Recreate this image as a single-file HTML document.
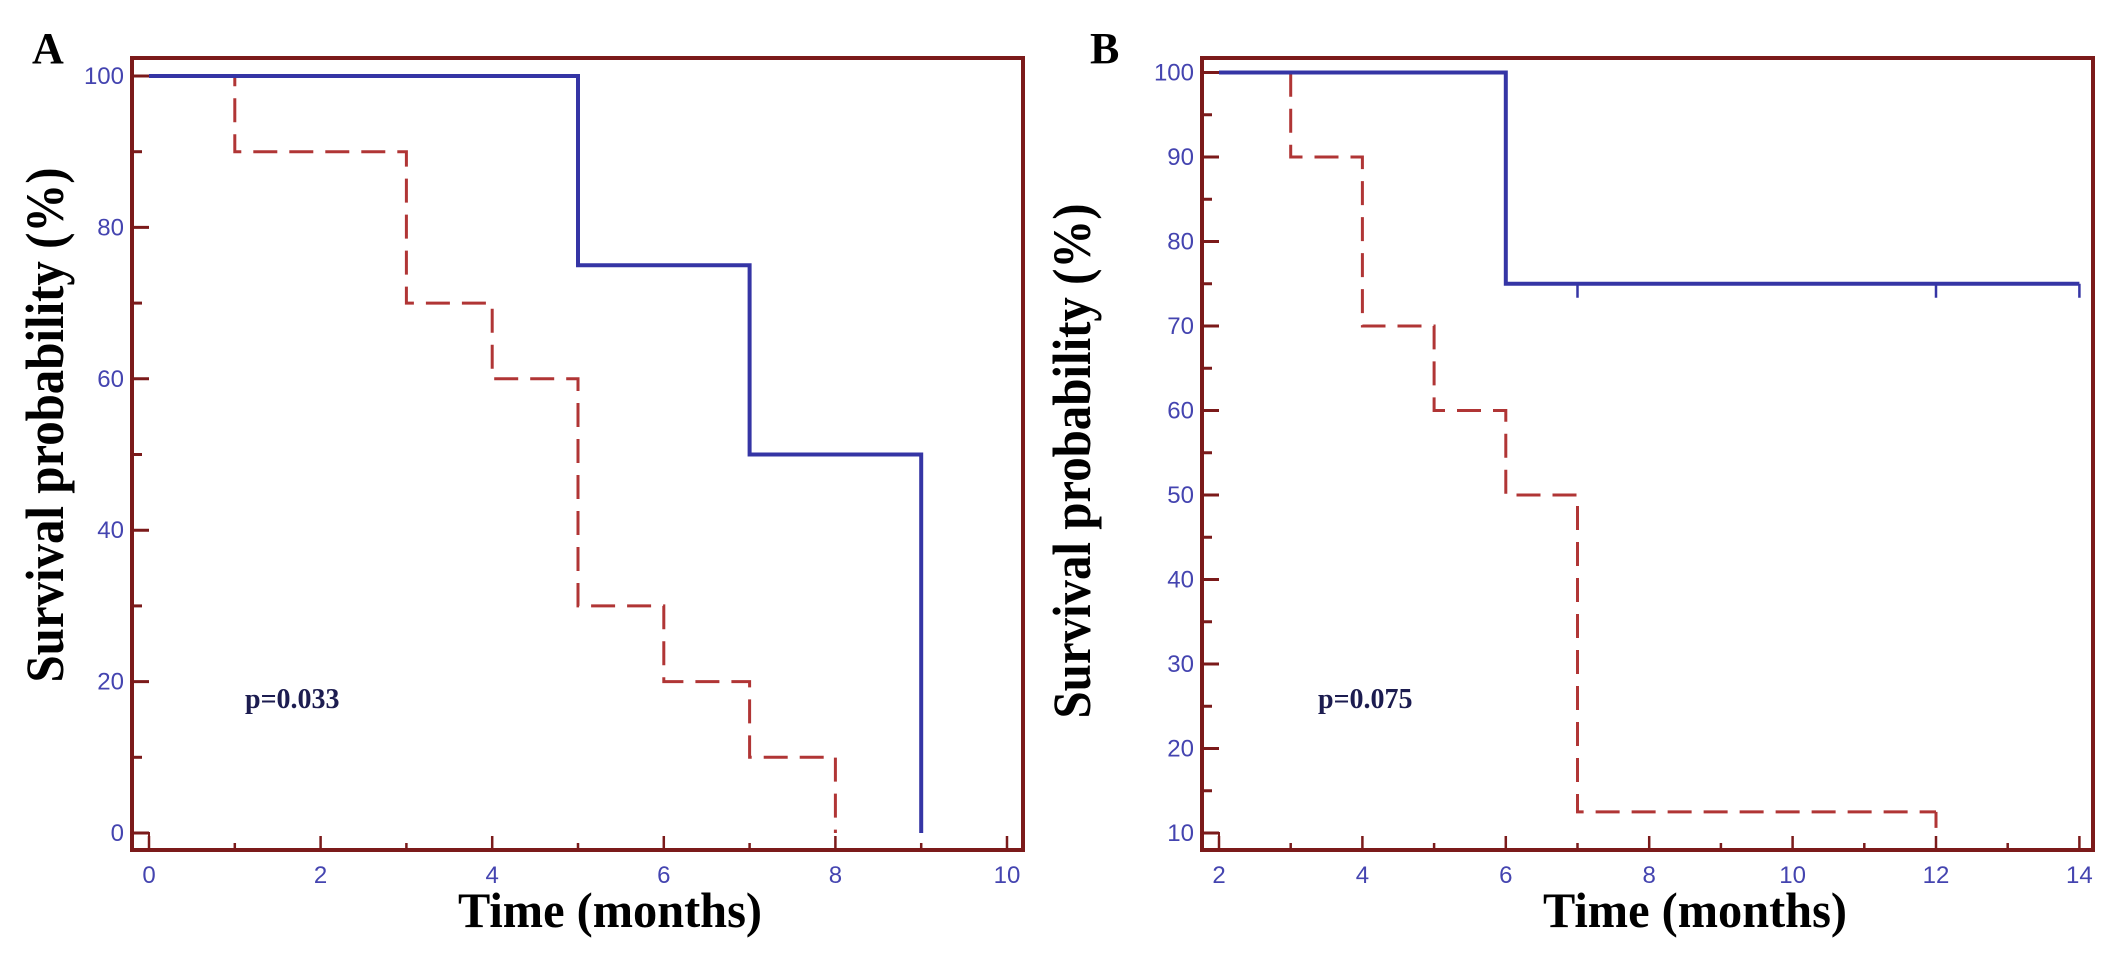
<!DOCTYPE html>
<html><head><meta charset="utf-8"><style>
html,body{margin:0;padding:0;background:#fff;}
svg{display:block;}
</style></head><body>
<svg id="chart" width="2126" height="964" viewBox="0 0 2126 964" xmlns="http://www.w3.org/2000/svg">
<rect width="2126" height="964" fill="#fff"/>
</svg>
<script>
// Panel A data
const aXTicks=[0,2,4,6,8,10];
const aYTicks=[0,20,40,60,80,100];
const aBlueT=[0,5,7,9];
const aBlueS=[100,75,50,0];
const aRedT=[0,1,3,4,5,6,7,8];
const aRedS=[100,90,70,60,30,20,10,0];
// Panel B data
const bXTicks=[2,4,6,8,10,12,14];
const bYTicks=[10,20,30,40,50,60,70,80,90,100];
const bBlueT=[2,6,14];
const bBlueS=[100,75,75];
const bRedT=[2,3,4,5,6,7,12];
const bRedS=[100,90,70,60,50,12.5,12.5];
const bCensor=[7,12,14];

const NS="http://www.w3.org/2000/svg";
const svg=document.getElementById('chart');
function mk(tag,attrs,parent){const e=document.createElementNS(NS,tag);for(const k in attrs)e.setAttribute(k,attrs[k]);(parent||svg).appendChild(e);return e;}

function panel(cfg){
  const g=mk('g',{});
  
  
  const X=v=>cfg.x0+(v-cfg.xmin)*cfg.xs;
  const Y=v=>cfg.y0-(v-cfg.ymin)*cfg.ys;
  const L=cfg.left,R=cfg.right,T=58,B=850;
  for(let v=cfg.ymin;v<=cfg.ymax+0.001;v+=cfg.yminor){
    const major=cfg.yTicks.includes(v);
    const t=mk('line',{x1:L,x2:L+(major?17:10),y1:Y(v),y2:Y(v),stroke:'#7b1a1a','stroke-width':3},g);
    
    
  }
  cfg.yTicks.forEach(v=>{
    const t=mk('text',{x:L-8,y:Y(v)+8,'text-anchor':'end','font-family':'Liberation Sans, sans-serif','font-size':24,fill:'#4444b0'},g);
    t.textContent=v;
    
    
  });
  for(let v=cfg.xmin;v<=cfg.xmax;v+=1){
    const major=cfg.xTicks.includes(v);
    const t=mk('line',{x1:X(v),x2:X(v),y1:B,y2:B-(major?14:7),stroke:'#7b1a1a','stroke-width':2.5},g);
    
    
  }
  cfg.xTicks.forEach(v=>{
    const t=mk('text',{x:X(v),y:883,'text-anchor':'middle','font-family':'Liberation Sans, sans-serif','font-size':24,fill:'#4444b0'},g);
    t.textContent=v;
    
    
  });
  mk('path',{d:`M${L} ${Y(cfg.ymin)} H${X(cfg.xmin)} V${B}`,fill:'none',stroke:'#7b1a1a','stroke-width':2},g);
  let d=`M${X(cfg.redT[0])} ${Y(cfg.redS[0])}`;
  for(let i=1;i<cfg.redT.length;i++){d+=` H${X(cfg.redT[i])} V${Y(cfg.redS[i])}`;}
  const r=mk('path',{d:d,fill:'none',stroke:'#b03535','stroke-width':3,'stroke-dasharray':'24 12'},g);
  
  
  if(cfg.redDrop){
    const last=cfg.redT[cfg.redT.length-1];
    const rd=mk('line',{x1:X(last),x2:X(last),y1:Y(cfg.redS[cfg.redS.length-1]),y2:Y(cfg.redS[cfg.redS.length-1])+16,stroke:'#b03535','stroke-width':3},g);
    
    
  }
  d=`M${X(cfg.blueT[0])} ${Y(cfg.blueS[0])}`;
  for(let i=1;i<cfg.blueT.length;i++){d+=` H${X(cfg.blueT[i])} V${Y(cfg.blueS[i])}`;}
  const b=mk('path',{d:d,fill:'none',stroke:'#3535a5','stroke-width':4},g);
  
  
  (cfg.censor||[]).forEach(v=>{
    const c=mk('line',{x1:X(v),x2:X(v),y1:Y(cfg.blueS[cfg.blueS.length-1]),y2:Y(cfg.blueS[cfg.blueS.length-1])+14,stroke:'#3535a5','stroke-width':2.5},g);
    
    
  });
  const f=mk('rect',{x:L,y:T,width:R-L,height:B-T,fill:'none',stroke:'#7b1a1a','stroke-width':4},g);
  
  
  const pl=mk('text',{x:cfg.letterX,y:63,'font-family':'Liberation Serif, serif','font-weight':'bold','font-size':44,fill:'#000'},g);
  pl.textContent=cfg.letter;
  
  
  const yt=mk('text',{x:0,y:0,transform:`translate(${cfg.ytX},${cfg.ytY}) rotate(-90)`,'text-anchor':'middle','font-family':'Liberation Serif, serif','font-weight':'bold','font-size':54,textLength:515,lengthAdjust:'spacingAndGlyphs',fill:'#000'},g);
  yt.textContent='Survival probability (%)';
  
  
  const xt=mk('text',{x:cfg.xtX,y:927,'text-anchor':'middle','font-family':'Liberation Serif, serif','font-weight':'bold','font-size':50,textLength:304,lengthAdjust:'spacingAndGlyphs',fill:'#000'},g);
  xt.textContent='Time (months)';
  
  
  const p=mk('text',{x:cfg.pX,y:708,'font-family':'Liberation Serif, serif','font-weight':'bold','font-size':28,fill:'#1c1c50'},g);
  p.textContent=cfg.p;
  
  
}

panel({name:'panel-a',left:132,right:1023,x0:149,xmin:0,xmax:10,xs:85.8,y0:833,ymin:0,ymax:100,ys:7.57,yminor:10,
  xTicks:aXTicks,yTicks:aYTicks,blueT:aBlueT,blueS:aBlueS,redT:aRedT,redS:aRedS,
  letter:'A',letterX:32,ytX:63,ytY:425,xtX:610,pX:245,p:'p=0.033'});
panel({name:'panel-b',left:1202,right:2093,x0:1219,xmin:2,xmax:14,xs:71.7,y0:833,ymin:10,ymax:100,ys:8.45,yminor:5,
  xTicks:bXTicks,yTicks:bYTicks,blueT:bBlueT,blueS:bBlueS,redT:bRedT,redS:bRedS,censor:bCensor,redDrop:true,
  letter:'B',letterX:1090,ytX:1090,ytY:461,xtX:1695,pX:1318,p:'p=0.075'});
</script>
</body></html>
